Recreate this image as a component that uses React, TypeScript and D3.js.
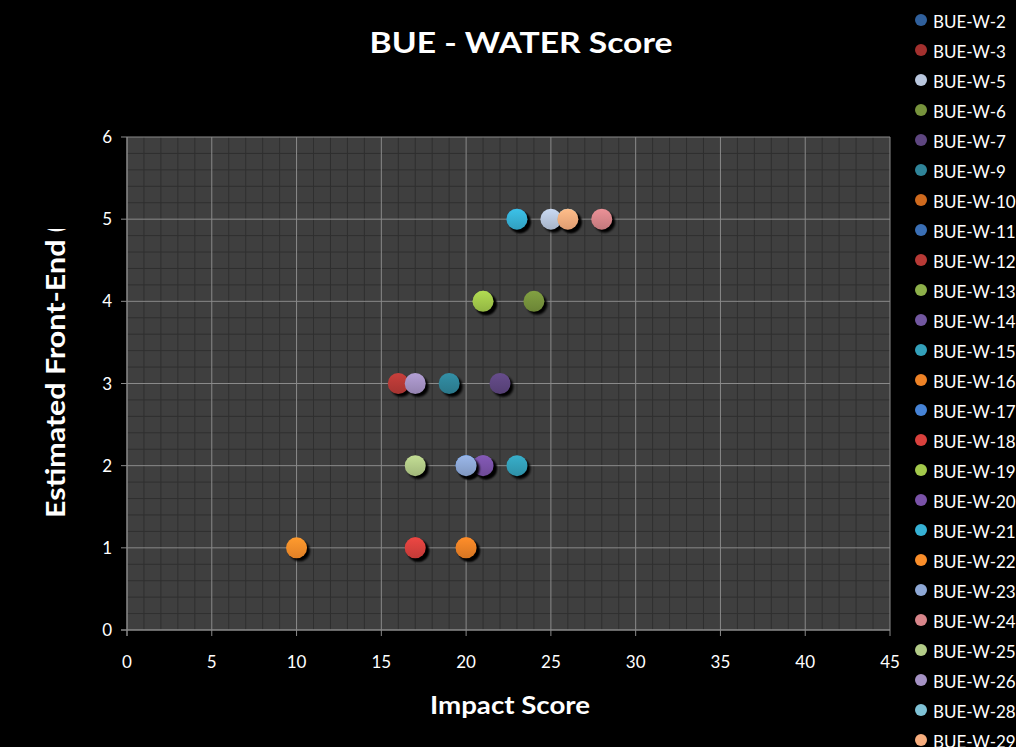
import React from "react";
import * as d3 from "d3";

const seriesNames = ["BUE-W-2","BUE-W-3","BUE-W-5","BUE-W-6","BUE-W-7","BUE-W-9","BUE-W-10","BUE-W-11","BUE-W-12","BUE-W-13","BUE-W-14","BUE-W-15","BUE-W-16","BUE-W-17","BUE-W-18","BUE-W-19","BUE-W-20","BUE-W-21","BUE-W-22","BUE-W-23","BUE-W-24","BUE-W-25","BUE-W-26","BUE-W-28","BUE-W-29"];
const seriesColors = ["#30609C","#A3302E","#B9C7DE","#77933C","#5E4680","#2F8499","#CF6A1E","#3A6FB5","#B83A36","#8DB04A","#7257A0","#33A0BA","#EE8226","#4683D6","#D9413D","#A3C94B","#7A52A8","#36B1D5","#FA8E2A","#8EA8D6","#D8858A","#B3CC88","#A592C4","#7FC2D6","#F8AE7E"];
const impactScores = [23,17,25,24,22,19,20,20,16,21,21,23,20,20,17,21,21,23,10,20,28,17,17,26,26];
const frontEndScores = [5,1,5,4,3,3,1,2,3,4,2,2,1,2,1,4,2,5,1,2,5,2,3,5,5];
const xTicks = [0,5,10,15,20,25,30,35,40,45];
const yTicks = [0,1,2,3,4,5,6];

const W = 1016, H = 747;
const FONT = "Lato, 'Open Sans', sans-serif";

export default function App() {
  const x = d3.scaleLinear().domain([0,45]).range([127,890]);
  const y = d3.scaleLinear().domain([0,6]).range([630,137]);
  const xMinor = d3.range(0,46,1);
  const yMinor = d3.range(0,6.001,0.2);
  return (
    <svg width={W} height={H} style={{position:"fixed",top:0,left:0,background:"#000"}} fontFamily={FONT}>
      <defs>
        {seriesColors.map((c,i)=>(
          <linearGradient key={i} id={"g"+i} x1="0" y1="0" x2="0" y2="1">
            <stop offset="0" stopColor={d3.color(c)!.brighter(0.25).formatHex()} />
            <stop offset="1" stopColor={d3.color(c)!.darker(0.3).formatHex()} />
          </linearGradient>
        ))}
        <filter id="sh" x="-50%" y="-50%" width="200%" height="200%">
          <feGaussianBlur stdDeviation="0.8" />
        </filter>
        <clipPath id="ytclip"><rect x={0} y={229} width={120} height={400} /></clipPath>
      </defs>
      <rect x={0} y={0} width={W} height={H} fill="#000" />
      <rect x={x(0)} y={y(6)} width={x(45)-x(0)} height={y(0)-y(6)} fill="#3f3f3f" />
      {xMinor.filter(v=>v%5!==0).map(v=>(
        <line key={"xm"+v} x1={x(v)} x2={x(v)} y1={y(0)} y2={y(6)} stroke="#2f2f2f" strokeWidth={1} />
      ))}
      {yMinor.filter(v=>Math.abs(v-Math.round(v))>0.01).map((v,i)=>(
        <line key={"ym"+i} x1={x(0)} x2={x(45)} y1={y(v)} y2={y(v)} stroke="#2f2f2f" strokeWidth={1} />
      ))}
      {xTicks.filter(v=>v>0).map(v=>(
        <line key={"xM"+v} x1={x(v)} x2={x(v)} y1={y(0)+6} y2={y(6)} stroke="#8a8a8a" strokeWidth={1} />
      ))}
      {yTicks.filter(v=>v>0).map(v=>(
        <line key={"yM"+v} x1={x(0)-6} x2={x(45)} y1={y(v)} y2={y(v)} stroke="#8a8a8a" strokeWidth={1} />
      ))}
      <line x1={x(0)} x2={x(0)} y1={y(6)} y2={y(0)+6} stroke="#8a8a8a" strokeWidth={1.5} />
      <line x1={x(0)-6} x2={x(45)} y1={y(0)} y2={y(0)} stroke="#8a8a8a" strokeWidth={1.5} />
      {xTicks.map(v=>(
        <text key={"xt"+v} x={x(v)} y={668} textAnchor="middle" fill="#fff" fontSize={17}>{v}</text>
      ))}
      {yTicks.map(v=>(
        <text key={"yt"+v} x={112} y={y(v)+6} textAnchor="end" fill="#fff" fontSize={17}>{v}</text>
      ))}
      {impactScores.map((v,i)=>(
        <g key={"p"+i}>
          <circle cx={x(v)+3} cy={y(frontEndScores[i])+3} r={10.5} fill="#000" filter="url(#sh)" />
          <circle cx={x(v)} cy={y(frontEndScores[i])} r={10.5} fill={`url(#g${i})`} />
        </g>
      ))}
      <text x={521} y={53} textAnchor="middle" fill="#fff" fontSize={29} fontWeight="bold" textLength={303} lengthAdjust="spacingAndGlyphs">BUE - WATER Score</text>
      <text x={510} y={714} textAnchor="middle" fill="#fff" fontSize={24} fontWeight="bold" textLength={160} lengthAdjust="spacingAndGlyphs">Impact Score</text>
      <g clipPath="url(#ytclip)">
        <text transform="translate(65,518) rotate(-90) scale(1.17,1)" textAnchor="start" fill="#fff" fontSize={26} fontWeight="bold">Estimated Front-End (Cost)</text>
      </g>
      {seriesNames.map((n,i)=>(
        <g key={"l"+i}>
          <circle cx={921} cy={20+i*30} r={6} fill={seriesColors[i]} />
          <text x={933} y={27.5+i*30} fill="#fff" fontSize={17}>{n}</text>
        </g>
      ))}
    </svg>
  );
}
